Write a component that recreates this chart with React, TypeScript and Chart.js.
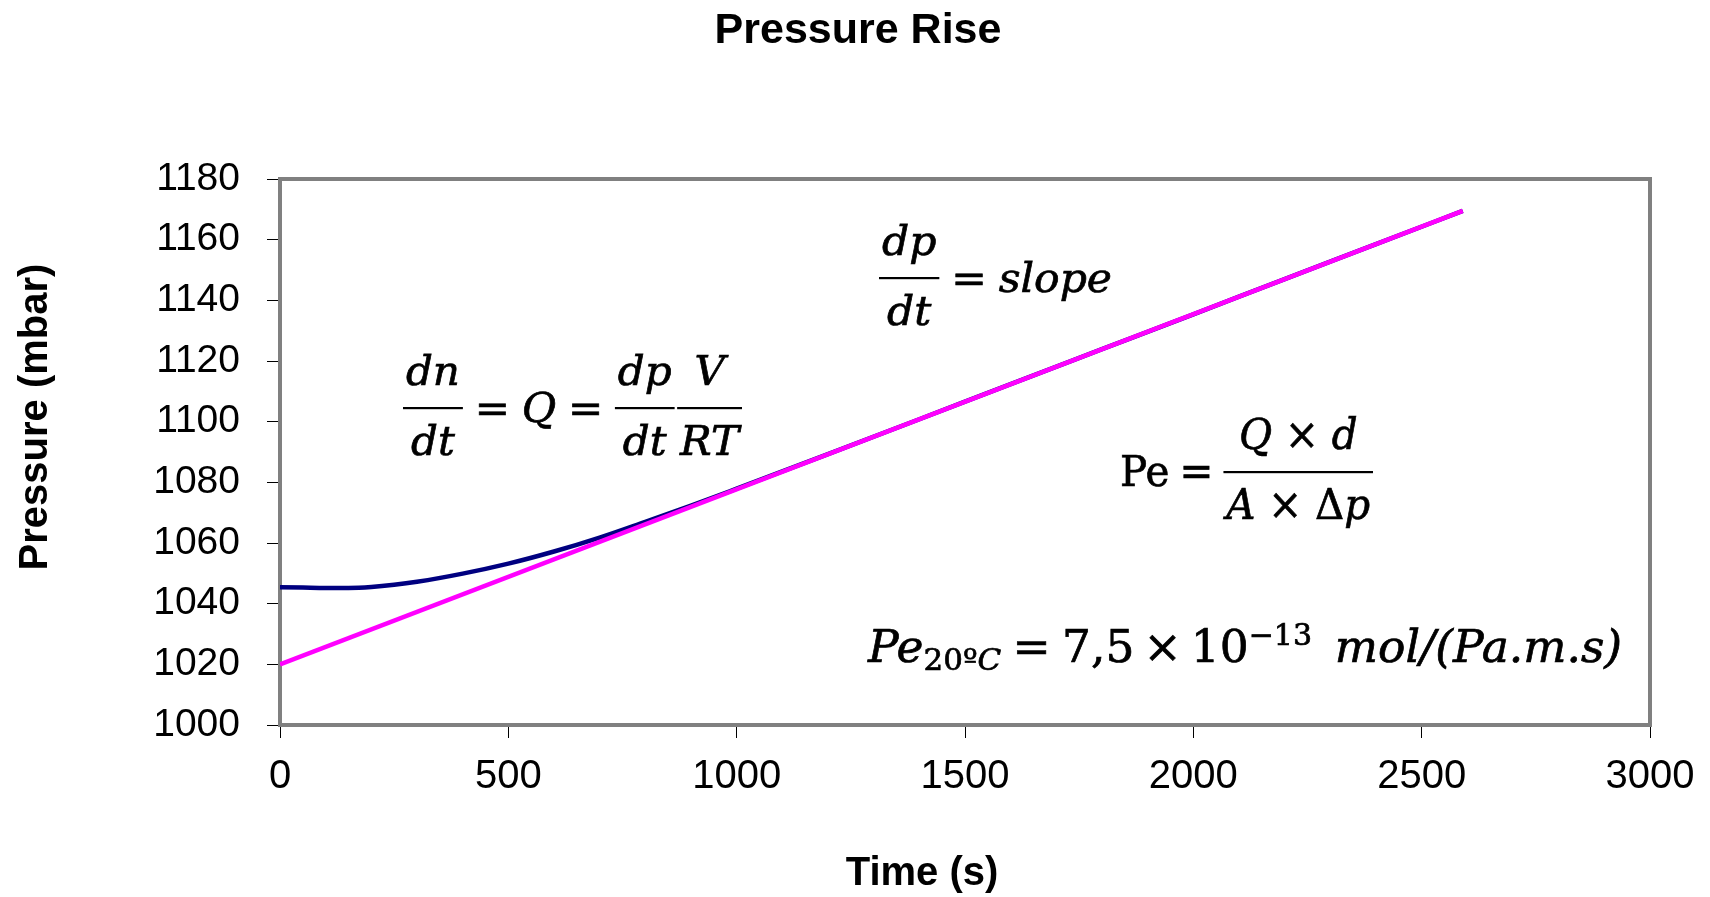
import React, { useEffect, useRef } from 'react';
import { Chart, registerables } from 'chart.js';

Chart.register(...registerables);

// ---- data -------------------------------------------------------------
const chartTitle = 'Pressure Rise';
const xAxisTitle = 'Time (s)';
const yAxisTitle = 'Pressure (mbar)';

// measured pressure in the cell (s, mbar)
const timeMeasured = [0, 50, 100, 150, 200, 250, 300, 400, 500, 600, 700, 800, 900, 1000, 1100, 1200, 1400, 1600, 1800, 2000, 2200, 2400, 2590];
const pressureMeasured = [1045.4, 1045.3, 1045.2, 1045.2, 1045.5, 1046.2, 1047.2, 1049.9, 1053.2, 1057.2, 1061.8, 1067.0, 1072.3, 1077.9, 1083.6, 1089.3, 1100.8, 1112.4, 1123.9, 1135.4, 1147.0, 1158.5, 1169.5];

// linear fit of the steady-state part (slope = dp/dt)
const timeFit = [0, 2590];
const pressureFit = [1020, 1169.5];

const xTickValues = [0, 500, 1000, 1500, 2000, 2500, 3000];
const yTickValues = [1000, 1020, 1040, 1060, 1080, 1100, 1120, 1140, 1160, 1180];

// ---- fonts ------------------------------------------------------------
const SANS = '"Liberation Sans", Arial, Helvetica, sans-serif';
const SERIF = '"DejaVu Serif", "Liberation Serif", serif';

// ---- equations ----------------------------------------------------------
type Seg = { s: string; it?: boolean; k?: number; dy?: number };
type Part = { segs: Seg[] } | { num: Seg[]; den: Seg[] } | { sp: number };

const EQ: Part[] = [{ segs: [{ s: '=' }] }];

const eqSlope: Part[] = [
  { num: [{ s: 'dp', it: true }], den: [{ s: 'dt', it: true }] },
  { sp: 0.28 }, ...EQ, { sp: 0.28 },
  { segs: [{ s: 'slope', it: true }] },
];

const eqFlow: Part[] = [
  { num: [{ s: 'dn', it: true }], den: [{ s: 'dt', it: true }] },
  { sp: 0.28 }, ...EQ, { sp: 0.28 },
  { segs: [{ s: 'Q', it: true }] },
  { sp: 0.28 }, ...EQ, { sp: 0.28 },
  { num: [{ s: 'dp', it: true }], den: [{ s: 'dt', it: true }] },
  { sp: 0.06 },
  { num: [{ s: 'V', it: true }], den: [{ s: 'RT', it: true }] },
];

const eqPermeability: Part[] = [
  { segs: [{ s: 'Pe' }] },
  { sp: 0.25 }, ...EQ, { sp: 0.25 },
  {
    num: [{ s: 'Q', it: true }, { s: ' × ' }, { s: 'd', it: true }],
    den: [{ s: 'A', it: true }, { s: ' × ' }, { s: 'Δ' }, { s: 'p', it: true }],
  },
];

const eqResult: Part[] = [
  { segs: [{ s: 'Pe', it: true }, { s: '20º', k: 0.68, dy: -0.18 }, { s: 'C', it: true, k: 0.68, dy: -0.18 }] },
  { sp: 0.25 }, ...EQ, { sp: 0.25 },
  { segs: [{ s: '7,5' }] },
  { sp: 0.2 }, { segs: [{ s: '×' }] }, { sp: 0.2 },
  { segs: [{ s: '10' }, { s: '−13', k: 0.66, dy: 0.38 }] },
  { sp: 0.5 },
  { segs: [{ s: 'mol/(Pa.m.s)', it: true }] },
];

// where each equation sits on the canvas: left edge, baseline, font size, total width
const equationPlacement = [
  { parts: eqSlope, x: 879, base: 292, em: 41, w: 233 },
  { parts: eqFlow, x: 403, base: 422, em: 41, w: 339 },
  { parts: eqPermeability, x: 1120, base: 486, em: 43, w: 253 },
  { parts: eqResult, x: 868, base: 662, em: 45, w: 754 },
];

function fontFor(g: Seg, em: number) {
  return `${g.it ? 'italic ' : ''}${(em * (g.k ?? 1)).toFixed(2)}px ${SERIF}`;
}

function segsWidth(ctx: CanvasRenderingContext2D, segs: Seg[], em: number) {
  let w = 0;
  for (const g of segs) {
    ctx.font = fontFor(g, em);
    w += ctx.measureText(g.s).width;
  }
  return w;
}

function drawSegs(ctx: CanvasRenderingContext2D, segs: Seg[], x: number, y: number, em: number) {
  for (const g of segs) {
    ctx.font = fontFor(g, em);
    const yy = y - (g.dy ?? 0) * em;
    ctx.fillText(g.s, x, yy);
    ctx.strokeText(g.s, x, yy);
    x += ctx.measureText(g.s).width;
  }
}

function partWidth(ctx: CanvasRenderingContext2D, p: Part, em: number) {
  if ('sp' in p) return p.sp * em;
  if ('num' in p) return Math.max(segsWidth(ctx, p.num, em), segsWidth(ctx, p.den, em)) + 0.14 * em;
  return segsWidth(ctx, p.segs, em);
}

function drawEquation(ctx: CanvasRenderingContext2D, parts: Part[], x: number, base: number, em: number, width: number) {
  const natural = parts.reduce((s, p) => s + partWidth(ctx, p, em), 0);
  const sx = width / natural;
  ctx.save();
  ctx.translate(x, base);
  ctx.scale(sx, 1);
  ctx.fillStyle = '#000';
  ctx.strokeStyle = '#000';
  ctx.lineWidth = 0.7;
  ctx.textAlign = 'left';
  ctx.textBaseline = 'alphabetic';
  let cx = 0;
  for (const p of parts) {
    const w = partWidth(ctx, p, em);
    if ('num' in p) {
      const bar = -14;
      ctx.fillRect(cx, bar - 1, w, 2.2);
      const nw = segsWidth(ctx, p.num, em);
      const dw = segsWidth(ctx, p.den, em);
      drawSegs(ctx, p.num, cx + (w - nw) / 2, bar - 23, em);
      drawSegs(ctx, p.den, cx + (w - dw) / 2, bar + 47, em);
    } else if ('segs' in p) {
      drawSegs(ctx, p.segs, cx, 0, em);
    }
    cx += w;
  }
  ctx.restore();
}

// ---- plugins ------------------------------------------------------------
const plotFrame = {
  id: 'plotFrame',
  beforeDatasetsDraw(chart: Chart) {
    const { ctx, chartArea: a } = chart;
    ctx.save();
    ctx.strokeStyle = '#808080';
    ctx.lineWidth = 4;
    ctx.strokeRect(a.left, a.top, a.right - a.left, a.bottom - a.top);
    ctx.restore();
  },
};

const annotations = {
  id: 'annotations',
  afterDraw(chart: Chart) {
    const ctx = chart.ctx;
    ctx.save();
    ctx.fillStyle = '#000';
    ctx.textAlign = 'center';
    ctx.textBaseline = 'alphabetic';

    ctx.font = `bold 43px ${SANS}`;
    ctx.fillText(chartTitle, 858, 43);

    ctx.font = `bold 40px ${SANS}`;
    ctx.fillText(xAxisTitle, 922, 885);

    ctx.translate(36, 417);
    ctx.rotate(-Math.PI / 2);
    ctx.font = `bold 40px ${SANS}`;
    ctx.textBaseline = 'middle';
    ctx.fillText(yAxisTitle, 0, 0);
    ctx.restore();

    for (const e of equationPlacement) drawEquation(ctx, e.parts, e.x, e.base, e.em, e.w);
  },
};

// ---- component ------------------------------------------------------------
export default function App() {
  const canvasRef = useRef<HTMLCanvasElement>(null);

  useEffect(() => {
    const canvas = canvasRef.current;
    if (!canvas) return;

    const chart = new Chart(canvas, {
      type: 'line',
      data: {
        datasets: [
          {
            label: 'Linear fit',
            data: timeFit.map((t, i) => ({ x: t, y: pressureFit[i] })),
            borderColor: '#FF00FF',
            borderWidth: 4.5,
            pointRadius: 0,
            tension: 0,
            order: 1,
          },
          {
            label: 'Measured',
            data: timeMeasured.map((t, i) => ({ x: t, y: pressureMeasured[i] })),
            borderColor: '#000080',
            borderWidth: 4.5,
            pointRadius: 0,
            cubicInterpolationMode: 'monotone',
            order: 2,
          },
        ],
      },
      options: {
        responsive: false,
        devicePixelRatio: 1,
        animation: false,
        events: [],
        layout: { padding: { left: 0, right: 60, top: 179, bottom: 0 } },
        plugins: {
          legend: { display: false },
          tooltip: { enabled: false },
          title: { display: false },
        },
        scales: {
          x: {
            type: 'linear',
            min: 0,
            max: 3000,
            afterBuildTicks: (s: any) => {
              s.ticks = xTickValues.map((v) => ({ value: v }));
            },
            afterFit: (s: any) => {
              s.height = 172;
            },
            grid: { drawOnChartArea: false, drawTicks: true, tickLength: 13, color: '#000', lineWidth: 1 },
            border: { display: false },
            ticks: {
              color: '#000',
              font: { family: SANS, size: 40 },
              padding: 15,
              maxRotation: 0,
              autoSkip: false,
              callback: (v: any) => String(v),
            },
          },
          y: {
            type: 'linear',
            min: 1000,
            max: 1180,
            afterBuildTicks: (s: any) => {
              s.ticks = yTickValues.map((v) => ({ value: v }));
            },
            afterFit: (s: any) => {
              s.width = 280;
            },
            grid: { drawOnChartArea: false, drawTicks: true, tickLength: 13, color: '#000', lineWidth: 1 },
            border: { display: false },
            ticks: {
              color: '#000',
              font: { family: SANS, size: 39 },
              padding: 27,
              autoSkip: false,
              callback: (v: any) => String(v),
            },
          },
        },
      },
      plugins: [plotFrame, annotations],
    } as any);

    return () => chart.destroy();
  }, []);

  return (
    <div style={{ position: 'fixed', left: 0, top: 0, width: 1710, height: 897, background: '#fff' }}>
      <canvas ref={canvasRef} width={1710} height={897} style={{ display: 'block', width: 1710, height: 897 }} />
    </div>
  );
}
